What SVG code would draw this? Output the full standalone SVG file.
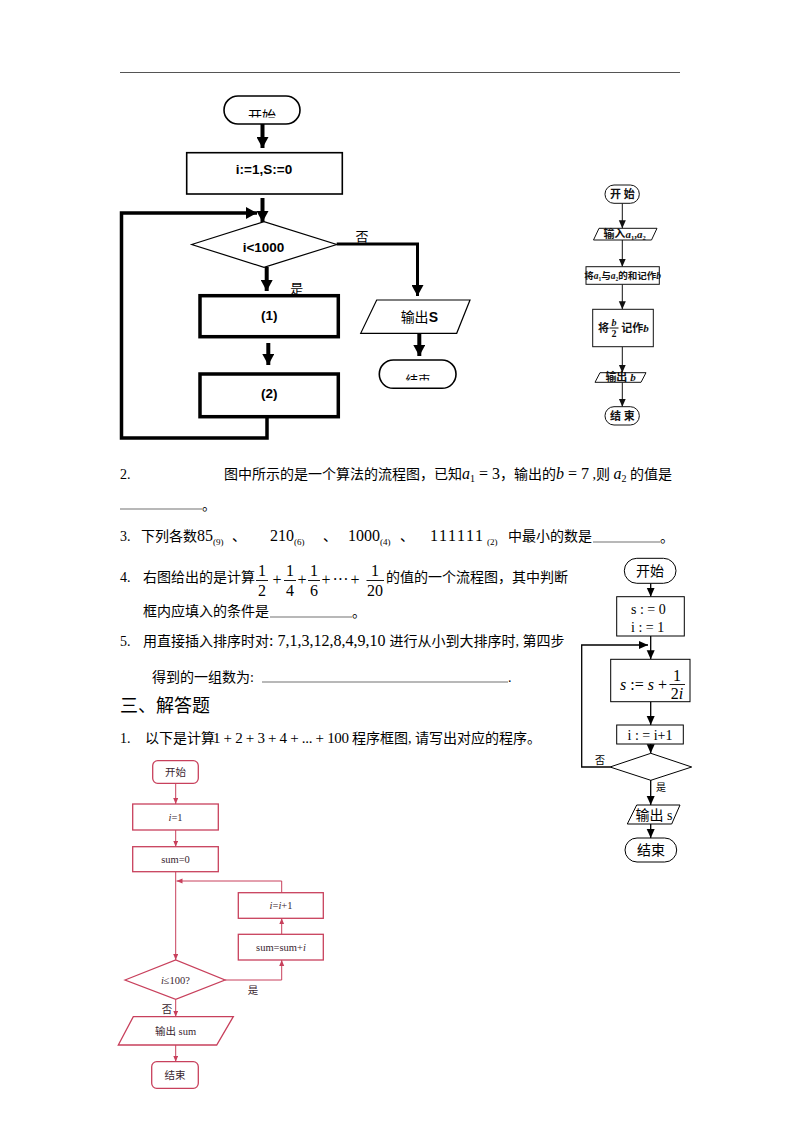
<svg xmlns="http://www.w3.org/2000/svg" width="800" height="1132" viewBox="0 0 800 1132">
<style>
.bg{fill:#ffffff}
.cn{font-family:"Liberation Serif","Noto Sans CJK SC",serif;font-size:14px;fill:#000}
.m{font-family:"Liberation Serif",serif;font-size:16px;fill:#000}
.mi{font-family:"Liberation Serif",serif;font-size:16px;font-style:italic;fill:#000}
.sub{font-family:"Liberation Serif",serif;font-size:9px;fill:#000}
.h{font-family:"Liberation Serif","Noto Sans CJK SC",serif;font-size:18px;fill:#000}
.ta{font-family:"Liberation Sans",Arial,sans-serif;font-weight:bold;font-size:13.5px;fill:#000;text-anchor:middle}
.tc{font-family:"Liberation Sans","Noto Sans CJK SC",sans-serif;font-size:13px;fill:#000;text-anchor:middle}
.thin{fill:#fff;stroke:#000;stroke-width:1.3}
.thick{fill:#fff;stroke:#000;stroke-width:3.5}
.tl{fill:none;stroke:#000;stroke-width:4}
.tr{font-family:"Liberation Serif","Noto Sans CJK SC",serif;font-size:11px;font-weight:bold;fill:#111;text-anchor:middle}
.trs{fill:#fff;stroke:#111;stroke-width:1}
.trl{fill:none;stroke:#111;stroke-width:1}
.rm{font-family:"Liberation Serif","Noto Sans CJK SC",serif;font-size:14px;fill:#000}
.rms{fill:#fff;stroke:#000;stroke-width:1}
.rml{fill:none;stroke:#000;stroke-width:1.3}
.bl{font-family:"Liberation Serif","Noto Sans CJK SC",serif;font-size:10.5px;fill:#3a2630;text-anchor:middle}
.bls{fill:#fff;stroke:#c8405c;stroke-width:1.3}
.bll{fill:none;stroke:#c8405c;stroke-width:1}
.ul{stroke:#333;stroke-width:0.7}
</style>
<defs>
<marker id="ahT" markerUnits="userSpaceOnUse" markerWidth="12" markerHeight="12" refX="11" refY="6" orient="auto">
<path d="M0,0 L11,6 L0,12 z" fill="#000"/>
</marker>
<marker id="ahS" markerUnits="userSpaceOnUse" markerWidth="8" markerHeight="8" refX="8" refY="3.5" orient="auto">
<path d="M0,0 L8,3.5 L0,7 z" fill="#111"/>
</marker>
<marker id="ahM" markerUnits="userSpaceOnUse" markerWidth="10" markerHeight="10" refX="9" refY="4" orient="auto">
<path d="M0,0 L9,4 L0,8 z" fill="#000"/>
</marker>
<marker id="ahR" markerUnits="userSpaceOnUse" markerWidth="7" markerHeight="7" refX="6" refY="2.5" orient="auto">
<path d="M0,0 L6,2.5 L0,5 z" fill="#c8405c"/>
</marker>
<clipPath id="clipStart"><rect x="200" y="90" width="120" height="27.5"/></clipPath>
<clipPath id="clipEnd"><rect x="370" y="355" width="100" height="25.5"/></clipPath>
</defs>
<rect class="bg" x="0" y="0" width="800" height="1132"/>
<line x1="120" y1="72.5" x2="680" y2="72.5" stroke="#555" stroke-width="1.2"/>

<!-- Flowchart A (top-left) -->
<g id="connectors-A">
<line class="tl" x1="262.5" y1="124" x2="262.5" y2="148" marker-end="url(#ahT)"/>
<line class="tl" x1="262.5" y1="198" x2="262.5" y2="222" marker-end="url(#ahT)"/>
<polyline class="tl" style="stroke-width:3.5" points="267,417 267,438 121.5,438 121.5,213 257,213" marker-end="url(#ahT)"/>
<polyline class="tl" style="stroke-width:3" points="336.7,244 417.5,244 417.5,296" marker-end="url(#ahT)"/>
<line class="tl" x1="266.7" y1="267" x2="266.7" y2="291" marker-end="url(#ahT)"/>
<line class="tl" x1="268.3" y1="343" x2="268.3" y2="365" marker-end="url(#ahT)"/>
<line class="tl" x1="419.3" y1="333" x2="419.3" y2="356" marker-end="url(#ahT)"/>
<text class="tc" x="362" y="241">否</text>
<text class="tc" x="296.7" y="293">是</text>
</g>
<g id="A-start">
<rect class="thin" style="stroke-width:1.6" x="224" y="96" width="76" height="28" rx="14"/>
<text class="tc" x="262" y="121" style="font-size:14px" clip-path="url(#clipStart)">开始</text>
</g>
<g id="A-init">
<rect class="thin" style="stroke-width:1.6" x="186.7" y="152.7" width="155.6" height="41.3"/>
<text class="ta" x="264" y="174">i:=1,S:=0</text>
</g>
<g id="A-cond">
<polygon class="thin" style="stroke-width:1.2" points="191.7,244.5 264,221.7 336.7,244.5 264,267.3"/>
<text class="ta" x="263.5" y="251.5">i&lt;1000</text>
</g>
<g id="A-step1">
<rect class="thick" x="200" y="295.7" width="138.3" height="41"/>
<text class="ta" x="269.3" y="319.5">(1)</text>
</g>
<g id="A-step2">
<rect class="thick" x="200" y="374" width="138.3" height="42.7"/>
<text class="ta" x="269.3" y="398">(2)</text>
</g>
<g id="A-output">
<polygon class="thin" style="stroke-width:1.2" points="376.7,300 470,300 456.7,333.3 360.7,333.3"/>
<text class="tc" x="419.3" y="322" style="font-size:14px">输出<tspan font-weight="bold">S</tspan></text>
</g>
<g id="A-end">
<rect class="thin" style="stroke-width:1.6" x="379.3" y="360" width="76.7" height="28.3" rx="14"/>
<text class="tc" x="418" y="384.5" style="font-size:12.5px" clip-path="url(#clipEnd)">结束</text>
</g>

<!-- Flowchart B (top-right) -->
<g id="connectors-B">
<line class="trl" x1="622.3" y1="203.3" x2="622.3" y2="228.3" marker-end="url(#ahS)"/>
<line class="trl" x1="622.3" y1="240" x2="622.3" y2="266.7" marker-end="url(#ahS)"/>
<line class="trl" x1="622.3" y1="284.3" x2="622.3" y2="309.3" marker-end="url(#ahS)"/>
<line class="trl" x1="622.3" y1="346.7" x2="622.3" y2="372.7" marker-end="url(#ahS)"/>
<line class="trl" x1="622.3" y1="382.3" x2="622.3" y2="406.7" marker-end="url(#ahS)"/>
</g>
<g id="B-start">
<rect class="trs" x="605" y="185" width="34.3" height="18.3" rx="9"/>
<text class="tr" x="622.3" y="198">开 始</text>
</g>
<g id="B-input">
<polygon class="trs" points="599,228.3 657,228.3 651.5,240 593.5,240"/>
<text class="tr" x="624.5" y="238.2">输入<tspan font-style="italic">a</tspan><tspan font-size="6.5" dy="1.5">1</tspan><tspan dy="-1.5">,</tspan><tspan font-style="italic">a</tspan><tspan font-size="6.5" dy="1.5">2</tspan></text>
</g>
<g id="B-sum">
<rect class="trs" x="586" y="266.7" width="73.3" height="17.6"/>
<text class="tr" x="622.6" y="279" style="font-size:9.5px">将<tspan font-style="italic">a</tspan><tspan font-size="5.5" dy="1.5">1</tspan><tspan dy="-1.5">与</tspan><tspan font-style="italic">a</tspan><tspan font-size="5.5" dy="1.5">2</tspan><tspan dy="-1.5">的和记作</tspan><tspan font-style="italic">b</tspan></text>
</g>
<g id="B-half">
<rect class="trs" x="592.7" y="309.3" width="60.6" height="37.4"/>
<text class="tr" x="603.5" y="332">将</text>
<text class="tr" x="614" y="325.5" style="font-size:10px;font-style:italic">b</text>
<line x1="609.5" y1="328" x2="618.5" y2="328" stroke="#111" stroke-width="1"/>
<text class="tr" x="614" y="337" style="font-size:10px">2</text>
<text class="tr" x="635" y="332">记作<tspan font-style="italic">b</tspan></text>
</g>
<g id="B-output">
<polygon class="trs" points="600,372.7 646,372.7 641,382.3 595,382.3"/>
<text class="tr" x="620.5" y="381.3">输出 <tspan font-style="italic">b</tspan></text>
</g>
<g id="B-end">
<rect class="trs" x="605" y="406.7" width="34.3" height="18.3" rx="9"/>
<text class="tr" x="622.3" y="419.8">结 束</text>
</g>

<!-- Question texts -->
<g id="text-q2">
<text class="m" style="font-size:14px" x="120" y="479">2.</text>
<text class="cn" x="224" y="479">图中所示的是一个算法的流程图，已知<tspan class="mi">a</tspan><tspan class="sub" style="font-size:10px" dy="3">1</tspan><tspan class="m" dy="-3"> = 3</tspan>，输出的<tspan class="mi">b</tspan><tspan class="m"> = 7</tspan> ,则 <tspan class="mi">a</tspan><tspan class="sub" style="font-size:10px" dy="3">2</tspan><tspan dy="-3"> 的值是</tspan></text>
<line class="ul" x1="120" y1="509" x2="202" y2="509"/>
<text class="cn" x="202" y="510">。</text>
</g>
<g id="text-q3">
<text class="m" style="font-size:14px" x="120" y="541">3.</text>
<text class="cn" x="141" y="541">下列各数</text>
<text class="m" x="197" y="541">85<tspan class="sub" dy="4">(9)</tspan></text>
<text class="cn" x="232" y="541">、</text>
<text class="m" x="270" y="541">210<tspan class="sub" dy="4">(6)</tspan></text>
<text class="cn" x="323" y="541">、</text>
<text class="m" x="348" y="541">1000<tspan class="sub" dy="4">(4)</tspan></text>
<text class="cn" x="400" y="541">、</text>
<text class="m" x="430" y="541" style="letter-spacing:1.6px">111111</text>
<text class="sub" x="487" y="545">(2)</text>
<text class="cn" x="508" y="541">中最小的数是</text>
<line class="ul" x1="593" y1="542" x2="660" y2="542"/>
<text class="cn" x="660" y="542">。</text>
</g>
<g id="text-q4">
<text class="m" style="font-size:14px" x="120" y="582">4.</text>
<text class="cn" x="143" y="582">右图给出的是计算</text>
<g class="m" text-anchor="middle">
<text x="262" y="576">1</text><line x1="256" y1="580.5" x2="268" y2="580.5" stroke="#000" stroke-width="0.9"/><text x="262" y="596">2</text>
<text x="277" y="585">+</text>
<text x="290" y="576">1</text><line x1="284" y1="580.5" x2="296" y2="580.5" stroke="#000" stroke-width="0.9"/><text x="290" y="596">4</text>
<text x="302" y="585">+</text>
<text x="314" y="576">1</text><line x1="308" y1="580.5" x2="320" y2="580.5" stroke="#000" stroke-width="0.9"/><text x="314" y="596">6</text>
<text x="326" y="585">+</text>
<text x="340.5" y="585">···</text>
<text x="355" y="585">+</text>
<text x="375" y="576">1</text><line x1="366.5" y1="580.5" x2="384" y2="580.5" stroke="#000" stroke-width="0.9"/><text x="375" y="596">20</text>
</g>
<text class="cn" x="386" y="582">的值的一个流程图，其中判断</text>
<text class="cn" x="143" y="616">框内应填入的条件是</text>
<line class="ul" x1="270" y1="617" x2="352" y2="617"/>
<text class="cn" x="352" y="617">。</text>
</g>
<g id="text-q5">
<text class="m" style="font-size:14px" x="120" y="646">5.</text>
<text class="cn" x="143" y="646">用直接插入排序时对<tspan class="m">: 7,1,3,12,8,4,9,10 </tspan>进行从小到大排序时, 第四步</text>
<text class="cn" x="152" y="682">得到的一组数为:</text>
<line class="ul" x1="262" y1="682" x2="508" y2="682"/>
<text class="cn" x="508" y="682">.</text>
</g>
<g id="text-section">
<text class="h" x="120" y="712">三、解答题</text>
<text class="m" style="font-size:14px" x="120" y="743">1.</text>
<text class="cn" x="145" y="743">以下是计算</text>
<text class="m" x="213" y="743" style="font-size:15px" textLength="136" lengthAdjust="spacing">1 + 2 + 3 + 4 + ... + 100</text>
<text class="cn" x="352" y="743">程序框图, 请写出对应的程序。</text>
</g>

<!-- Flowchart C (right middle) -->
<g id="connectors-C">
<line class="rml" x1="650.7" y1="583.3" x2="650.7" y2="596.7" marker-end="url(#ahM)"/>
<line class="rml" x1="650.7" y1="636" x2="650.7" y2="659.3" marker-end="url(#ahM)"/>
<polyline class="rml" points="610,767 581.7,767 581.7,645 648,645" marker-end="url(#ahM)"/>
<line class="rml" x1="650.7" y1="701.7" x2="650.7" y2="725" marker-end="url(#ahM)"/>
<line class="rml" x1="650.7" y1="744" x2="650.7" y2="753.3" marker-end="url(#ahM)"/>
<line class="rml" x1="650.7" y1="780" x2="650.7" y2="805" marker-end="url(#ahM)"/>
<line class="rml" x1="650.7" y1="824" x2="650.7" y2="838" marker-end="url(#ahM)"/>
<text class="rm" style="font-size:10px" x="595" y="764">否</text>
<text class="rm" style="font-size:10px" x="656" y="791">是</text>
</g>
<g id="C-start">
<rect class="rms" x="624.3" y="558.3" width="51.7" height="25" rx="12.5"/>
<text class="rm" x="650" y="576" text-anchor="middle">开始</text>
</g>
<g id="C-init">
<rect class="rms" x="616.7" y="596.7" width="67.6" height="39.3"/>
<text class="rm" x="631" y="613.5">s : = 0</text>
<text class="rm" x="631" y="631.5">i : = 1</text>
</g>
<g id="C-acc">
<rect class="rms" x="610.7" y="659.3" width="79.3" height="42.4"/>
<text class="mi" x="620" y="690">s<tspan font-style="normal"> := </tspan>s<tspan font-style="normal"> + </tspan></text>
<text class="m" x="677" y="680.5" text-anchor="middle">1</text>
<line x1="669.5" y1="684.5" x2="685" y2="684.5" stroke="#000" stroke-width="0.9"/>
<text class="m" x="677" y="699" text-anchor="middle">2<tspan font-style="italic">i</tspan></text>
</g>
<g id="C-inc">
<rect class="rms" x="616.7" y="725" width="66.6" height="19"/>
<text class="rm" x="650" y="739.5" text-anchor="middle">i : = i+1</text>
</g>
<g id="C-cond">
<polygon class="rms" points="610,767 650.8,753.3 691.7,767 650.8,780.3"/>
</g>
<g id="C-output">
<polygon class="rms" points="636.7,805 680,805 671.7,824 627.3,824"/>
<text class="rm" x="654" y="819.5" text-anchor="middle">输出 s</text>
</g>
<g id="C-end">
<rect class="rms" x="625" y="838" width="51.7" height="24" rx="12"/>
<text class="rm" x="651" y="855" text-anchor="middle">结束</text>
</g>

<!-- Flowchart D (bottom-left, red) -->
<g id="connectors-D">
<line class="bll" x1="175.7" y1="783.3" x2="175.7" y2="804" marker-end="url(#ahR)"/>
<line class="bll" x1="175.7" y1="830" x2="175.7" y2="846.7" marker-end="url(#ahR)"/>
<line class="bll" x1="175.7" y1="871.7" x2="175.7" y2="960" marker-end="url(#ahR)"/>
<polyline class="bll" points="281.7,892.7 281.7,881 176.5,881" marker-end="url(#ahR)"/>
<line class="bll" x1="281.7" y1="934.3" x2="281.7" y2="918.3" marker-end="url(#ahR)"/>
<polyline class="bll" points="225,980 281.7,980 281.7,960" marker-end="url(#ahR)"/>
<line class="bll" x1="175.7" y1="999.3" x2="175.7" y2="1016.7" marker-end="url(#ahR)"/>
<line class="bll" x1="175.7" y1="1045" x2="175.7" y2="1061.7" marker-end="url(#ahR)"/>
<text class="bl" x="253" y="994">是</text>
<text class="bl" x="167" y="1013">否</text>
</g>
<g id="D-start">
<rect class="bls" x="152.7" y="760.7" width="45.6" height="22.6" rx="5"/>
<text class="bl" x="175.5" y="776">开始</text>
</g>
<g id="D-i">
<rect class="bls" x="132.7" y="804" width="85.6" height="26"/>
<text class="bl" x="175.5" y="821"><tspan font-style="italic">i</tspan>=1</text>
</g>
<g id="D-sum0">
<rect class="bls" x="132.7" y="846.7" width="85.6" height="25"/>
<text class="bl" x="175.5" y="863">sum=0</text>
</g>
<g id="D-inc">
<rect class="bls" x="238.3" y="892.7" width="85" height="25.6"/>
<text class="bl" x="281" y="909"><tspan font-style="italic">i</tspan>=<tspan font-style="italic">i</tspan>+1</text>
</g>
<g id="D-add">
<rect class="bls" x="238.3" y="934.3" width="85" height="25.7"/>
<text class="bl" x="281" y="951">sum=sum+<tspan font-style="italic">i</tspan></text>
</g>
<g id="D-cond">
<polygon class="bls" points="125,980 175.7,960 225,980 175.7,999.3"/>
<text class="bl" x="175.5" y="984"><tspan font-style="italic">i</tspan>≤100?</text>
</g>
<g id="D-output">
<polygon class="bls" points="133.3,1016.7 233.3,1016.7 216.7,1045 118.3,1045"/>
<text class="bl" x="175.5" y="1035">输出 sum</text>
</g>
<g id="D-end">
<rect class="bls" x="151.7" y="1061.7" width="46.6" height="26.6" rx="5"/>
<text class="bl" x="175" y="1079">结束</text>
</g>
</svg>
